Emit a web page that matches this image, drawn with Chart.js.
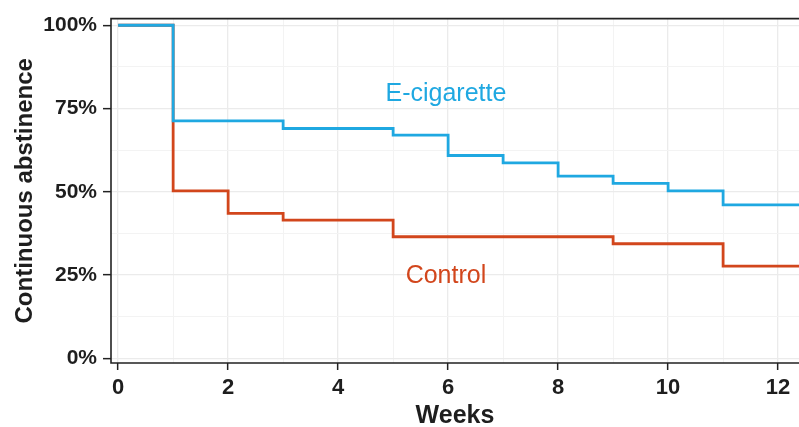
<!DOCTYPE html>
<html>
<head>
<meta charset="utf-8">
<script src="https://cdn.jsdelivr.net/npm/chart.js@4"></script>
<style>
  html, body { margin: 0; padding: 0; background: #fff; }
  #wrap { width: 799px; height: 427px; }
</style>
</head>
<body>
<div id="wrap"><canvas id="c" width="799" height="427"></canvas></div>
<script>
// ---- Data ----
const ecigWeeks   = [0, 1, 3, 5, 6, 7, 8, 9, 10, 11, 13];
const ecigValues  = [100, 71.3, 69.0, 67.0, 60.9, 58.7, 54.7, 52.5, 50.3, 46.1, 46.1];
const controlWeeks  = [0, 1, 2, 3, 5, 9, 11, 13];
const controlValues = [100, 50.3, 43.5, 41.5, 36.5, 34.4, 27.7, 27.7];
const xTickValues = [0, 1, 2, 3, 4, 5, 6, 7, 8, 9, 10, 11, 12];
const yTickValues = [0, 12.5, 25, 37.5, 50, 62.5, 75, 87.5, 100];
const seriesNames = ['E-cigarette', 'Control'];

const BLUE = '#1fa8e1';
const RED = '#d2461c';
const AXIS_FONT = "'Liberation Sans', Arial, Helvetica, sans-serif";
const LABEL_FONT = "'Liberation Sans', Arial, sans-serif";

const toPoints = (xs, ys) => xs.map((x, i) => ({ x: x, y: ys[i] }));

// Series name labels placed in data coordinates
const seriesLabels = [
  { text: seriesNames[0], x: 5.96, y: 79.3, color: BLUE },
  { text: seriesNames[1], x: 5.96, y: 24.8, color: RED }
];

const labelPlugin = {
  id: 'seriesLabels',
  afterDatasetsDraw(chart) {
    const { ctx, scales } = chart;
    ctx.save();
    ctx.font = "25px " + LABEL_FONT;
    ctx.textAlign = 'center';
    ctx.textBaseline = 'middle';
    seriesLabels.forEach(l => {
      ctx.fillStyle = l.color;
      ctx.fillText(l.text, scales.x.getPixelForValue(l.x), scales.y.getPixelForValue(l.y));
    });
    ctx.restore();
  }
};

const borderPlugin = {
  id: 'panelBorder',
  afterDraw(chart) {
    const { ctx, chartArea: a } = chart;
    ctx.save();
    ctx.strokeStyle = '#222';
    ctx.lineWidth = 1.6;
    ctx.beginPath();
    ctx.moveTo(a.right + 2, a.top);
    ctx.lineTo(a.left, a.top);
    ctx.lineTo(a.left, a.bottom);
    ctx.lineTo(a.right + 2, a.bottom);
    ctx.stroke();
    ctx.restore();
  }
};

const isMajorX = v => Math.abs(v % 2) < 1e-9;
const isMajorY = v => Math.abs(v % 25) < 1e-9;

new Chart(document.getElementById('c'), {
  type: 'line',
  data: {
    datasets: [
      {
        label: seriesNames[0],
        data: toPoints(ecigWeeks, ecigValues),
        borderColor: BLUE,
        borderWidth: 2.8,
        stepped: 'before',
        pointRadius: 0,
        fill: false
      },
      {
        label: seriesNames[1],
        data: toPoints(controlWeeks, controlValues),
        borderColor: RED,
        borderWidth: 2.8,
        stepped: 'before',
        pointRadius: 0,
        fill: false
      }
    ]
  },
  options: {
    responsive: false,
    animation: false,
    devicePixelRatio: 1,
    layout: { padding: { top: 16, right: 0, bottom: 0, left: 0 } },
    plugins: {
      legend: { display: false },
      tooltip: { enabled: false }
    },
    scales: {
      x: {
        type: 'linear',
        min: -0.13,
        max: 12.38,
        afterBuildTicks: s => { s.ticks = xTickValues.map(v => ({ value: v })); },
        afterFit: s => { s.height = 64; },
        border: { display: false },
        grid: {
          color: c => isMajorX(c.tick.value) ? '#ebebeb' : '#f3f3f3',
          lineWidth: c => isMajorX(c.tick.value) ? 1.3 : 1,
          tickColor: c => isMajorX(c.tick.value) ? '#222' : 'rgba(0,0,0,0)',
          tickLength: 7,
          tickWidth: 1.5
        },
        ticks: {
          autoSkip: false,
          maxRotation: 0,
          padding: 5,
          color: '#1e1e1e',
          font: { family: AXIS_FONT, size: 22, weight: 'bold' },
          callback: v => isMajorX(v) ? String(v) : ''
        },
        title: {
          display: true,
          text: 'Weeks',
          color: '#1e1e1e',
          font: { family: AXIS_FONT, size: 25, weight: 'bold', lineHeight: 0.84 },
          padding: { top: 0, bottom: 0 }
        }
      },
      y: {
        type: 'linear',
        min: -1.4,
        max: 102.0,
        afterBuildTicks: s => { s.ticks = yTickValues.map(v => ({ value: v })); },
        afterFit: s => { s.width = 111; },
        border: { display: false },
        grid: {
          color: c => isMajorY(c.tick.value) ? '#ebebeb' : '#f3f3f3',
          lineWidth: c => isMajorY(c.tick.value) ? 1.3 : 1,
          tickColor: c => isMajorY(c.tick.value) ? '#222' : 'rgba(0,0,0,0)',
          tickLength: 8,
          tickWidth: 1.5
        },
        ticks: {
          autoSkip: false,
          padding: 6,
          color: '#1e1e1e',
          font: { family: AXIS_FONT, size: 21, weight: 'bold' },
          callback: v => isMajorY(v) ? v + '%' : ''
        },
        title: {
          display: true,
          text: 'Continuous abstinence',
          color: '#1e1e1e',
          font: { family: AXIS_FONT, size: 24, weight: 'bold' },
          padding: { top: 11, bottom: 0 }
        }
      }
    }
  },
  plugins: [labelPlugin, borderPlugin]
});
</script>
</body>
</html>
